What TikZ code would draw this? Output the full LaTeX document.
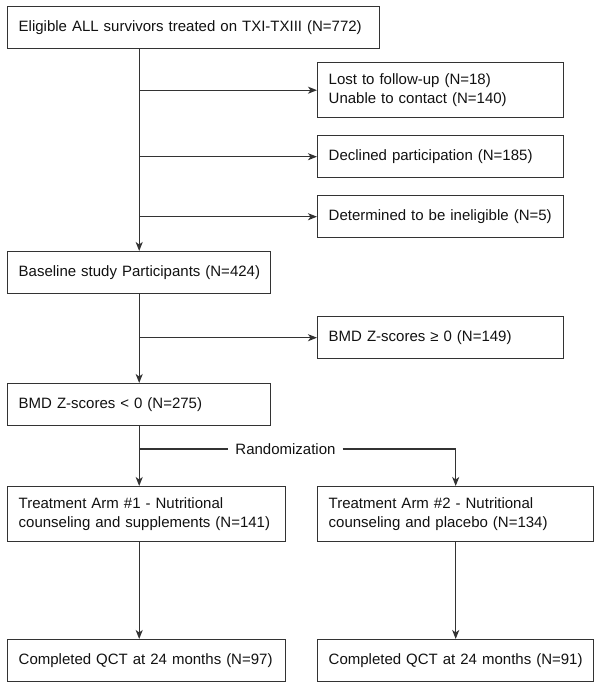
\documentclass[tikz,border=0pt]{standalone}
\usepackage{fontspec}
\setmainfont{Liberation Sans}
\usetikzlibrary{arrows.meta}
\definecolor{linec}{HTML}{333333}
\definecolor{txt}{HTML}{111111}
\begin{document}
\begin{tikzpicture}[x=1pt,y=-1pt,
  flowbox/.style={draw=linec, line width=1.4pt, anchor=north west, inner xsep=11pt, inner ysep=0pt, align=left, font=\fontsize{15}{18.5}\selectfont, text=txt},
  arr/.style={draw=linec, line width=1.4pt, -{Stealth[length=9pt,width=7pt,inset=2.5pt]}},
  ln/.style={draw=linec, line width=1.4pt}]
\useasboundingbox (0,0) rectangle (601,689);
\node[flowbox, text width=350pt, minimum height=42pt] (top) at (7,6) {\mbox{Eligible ALL survivors treated on TXI-TXIII (N=772)}};
\node[flowbox, text width=224pt, minimum height=55pt] (r1) at (317,62) {\mbox{Lost to follow-up (N=18)}\\\mbox{Unable to contact (N=140)}};
\node[flowbox, text width=224pt, minimum height=42pt] (r2) at (317,135) {\mbox{Declined participation (N=185)}};
\node[flowbox, text width=224pt, minimum height=42pt] (r3) at (317,195) {\mbox{Determined to be ineligible (N=5)}};
\node[flowbox, text width=241pt, minimum height=42pt] (base) at (7,251) {\mbox{Baseline study Participants (N=424)}};
\node[flowbox, text width=224pt, minimum height=42pt] (bmdpos) at (317,316) {\mbox{BMD Z-scores ≥ 0 (N=149)}};
\node[flowbox, text width=241pt, minimum height=42pt] (bmdneg) at (7,383) {\mbox{BMD Z-scores < 0 (N=275)}};
\node[flowbox, text width=256pt, minimum height=55pt] (arm1) at (7,486) {\mbox{Treatment Arm \#1 - Nutritional}\\\mbox{counseling and supplements (N=141)}};
\node[flowbox, text width=254pt, minimum height=55pt] (arm2) at (317,486) {\mbox{Treatment Arm \#2 - Nutritional}\\\mbox{counseling and placebo (N=134)}};
\node[flowbox, text width=256pt, minimum height=42pt] (comp1) at (7,639) {\mbox{Completed QCT at 24 months (N=97)}};
\node[flowbox, text width=254pt, minimum height=42pt] (comp2) at (317,639) {\mbox{Completed QCT at 24 months (N=91)}};
\node[inner xsep=7pt, inner ysep=0pt, font=\fontsize{15}{18.5}\selectfont, text=txt] (rand) at (285.5,449) {Randomization};
% spine
\draw[arr] (base.north |- top.south) -- (base.north);
\draw[arr] (base.north |- r1.west) -- (r1.west);
\draw[arr] (base.north |- r2.west) -- (r2.west);
\draw[arr] (base.north |- r3.west) -- (r3.west);
\draw[arr] (base.south) -- (bmdneg.north);
\draw[arr] (base.south |- bmdpos.west) -- (bmdpos.west);
\draw[arr] (bmdneg.south) -- (bmdneg.south |- arm1.north);
\draw[ln] (bmdneg.south |- rand.west) -- (rand.west);
\draw[arr] (rand.east) -- (rand.east -| arm2.north) -- (arm2.north);
\draw[arr] (bmdneg.south |- arm1.south) -- (bmdneg.south |- comp1.north);
\draw[arr] (arm2.south) -- (comp2.north);
\end{tikzpicture}
\end{document}
